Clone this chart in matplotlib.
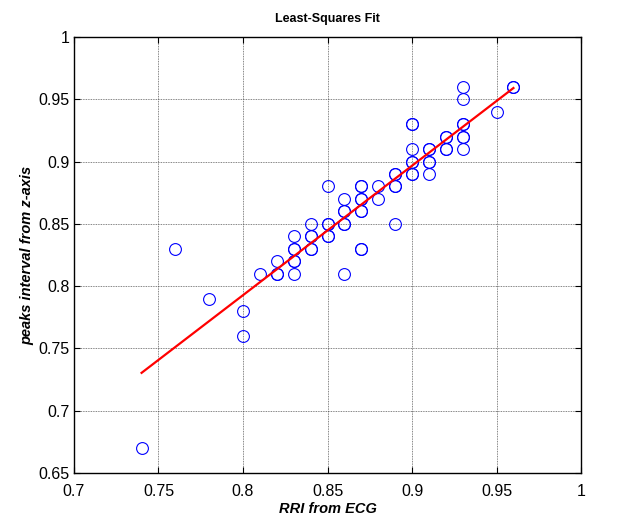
import numpy as np
import matplotlib
matplotlib.use("Agg")
import matplotlib.pyplot as plt

plt.rcParams['font.family'] = ['Liberation Sans', 'DejaVu Sans']

# RRI from ECG (x) vs peaks interval from z-axis (y); repeated pairs = overlapping circles
rri_ecg = [0.74, 0.76, 0.78, 0.80, 0.80, 0.81,
           0.82, 0.82, 0.82,
           0.83, 0.83, 0.83, 0.83, 0.83, 0.83,
           0.84, 0.84, 0.84, 0.84, 0.84,
           0.85, 0.85, 0.85, 0.85, 0.85,
           0.86, 0.86, 0.86, 0.86, 0.86, 0.86,
           0.87, 0.87, 0.87, 0.87, 0.87, 0.87, 0.87, 0.87,
           0.88, 0.88,
           0.89, 0.89, 0.89, 0.89, 0.89,
           0.90, 0.90, 0.90, 0.90, 0.90, 0.90, 0.90,
           0.91, 0.91, 0.91, 0.91, 0.91,
           0.92, 0.92, 0.92, 0.92,
           0.93, 0.93, 0.93, 0.93, 0.93, 0.93, 0.93,
           0.95, 0.96, 0.96]
peaks_z = [0.67, 0.83, 0.79, 0.78, 0.76, 0.81,
           0.82, 0.81, 0.81,
           0.84, 0.83, 0.83, 0.82, 0.82, 0.81,
           0.85, 0.84, 0.84, 0.83, 0.83,
           0.88, 0.85, 0.85, 0.84, 0.84,
           0.87, 0.86, 0.86, 0.85, 0.85, 0.81,
           0.88, 0.88, 0.87, 0.87, 0.86, 0.86, 0.83, 0.83,
           0.88, 0.87,
           0.89, 0.89, 0.88, 0.88, 0.85,
           0.93, 0.93, 0.91, 0.90, 0.90, 0.89, 0.89,
           0.91, 0.91, 0.90, 0.90, 0.89,
           0.92, 0.92, 0.91, 0.91,
           0.96, 0.95, 0.93, 0.93, 0.92, 0.92, 0.91,
           0.94, 0.96, 0.96]

x = np.array(rri_ecg)
y = np.array(peaks_z)
slope, intercept = np.polyfit(x, y, 1)
xfit = np.array([x.min(), x.max()])

fig = plt.figure(figsize=(6.18, 5.2), dpi=100)
ax = fig.add_axes([0.1197, 0.0904, 0.8205, 0.8386])

ax.plot(x, y, 'o', mfc='none', mec='blue', ms=8.5, mew=0.8)
ax.plot(xfit, slope * xfit + intercept, color='red', lw=1.6)

ax.set_xlim(0.7, 1)
ax.set_ylim(0.65, 1)
ax.set_xticks(np.arange(0.7, 1.001, 0.05))
ax.set_yticks(np.arange(0.65, 1.001, 0.05))
ax.set_xticklabels(['0.7', '0.75', '0.8', '0.85', '0.9', '0.95', '1'])
ax.set_yticklabels(['0.65', '0.7', '0.75', '0.8', '0.85', '0.9', '0.95', '1'])
ax.tick_params(direction='in', top=True, right=True, labelsize=11.5, length=4)
ax.tick_params(axis='y', pad=3)
ax.tick_params(axis='x', pad=8)
ax.grid(True, color='#333333', linestyle=(0, (1, 1)), linewidth=0.6, alpha=0.8)
for sp in ax.spines.values():
    sp.set_linewidth(1.0)

ax.set_title('Least-Squares Fit', fontsize=9, fontweight='bold', pad=11)
ax.set_xlabel('RRI from ECG', fontsize=10.5, fontweight='bold', style='italic', labelpad=2)
ax.set_ylabel('peaks interval from z-axis', fontsize=10.5, fontweight='bold', style='italic', labelpad=3)

fig.savefig('out.png', dpi=100)
